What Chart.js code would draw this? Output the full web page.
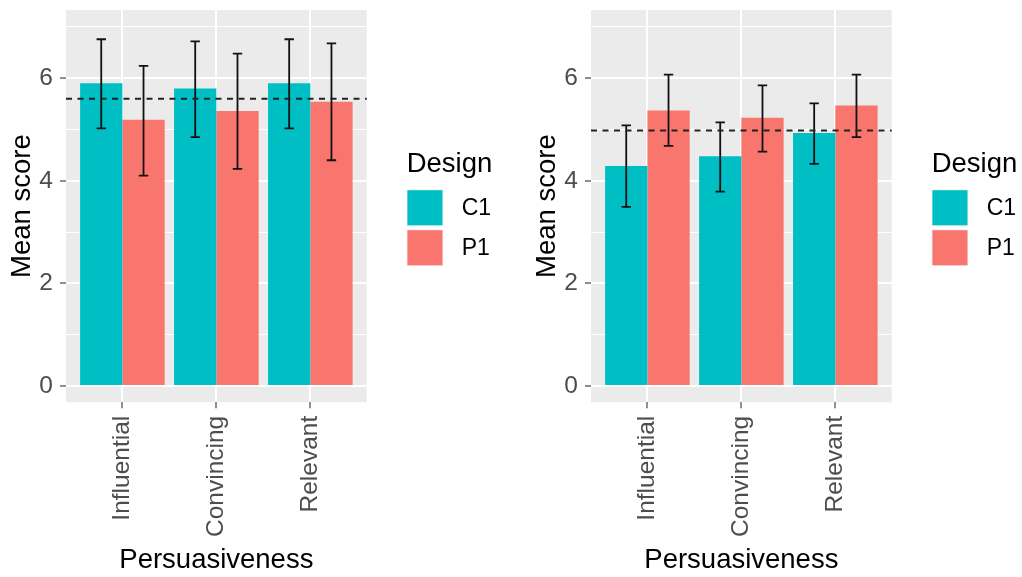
<!DOCTYPE html>
<html>
<head>
<meta charset="utf-8">
<script src="https://cdn.jsdelivr.net/npm/chart.js@4/dist/chart.umd.min.js"></script>
<style>
  html, body { margin: 0; padding: 0; background: #ffffff; width: 1022px; height: 577px; overflow: hidden; }
  .panel { position: absolute; top: 0; height: 577px; }
  #panelLeft { left: 0; width: 525px; }
  #panelRight { left: 525px; width: 497px; }
</style>
</head>
<body>
<div class="panel" id="panelLeft"><canvas id="chartLeft"></canvas></div>
<div class="panel" id="panelRight"><canvas id="chartRight"></canvas></div>
<script>
// Categories, groups and axis labels
const categories = ['Influential', 'Convincing', 'Relevant'];
const designs = ['C1', 'P1'];
const designColors = ['#00BFC4', '#F8766D'];
const yTickLabels = [0, 2, 4, 6];

// Left panel: mean scores with error-bar limits
const leftMeanC1 = [5.90, 5.80, 5.90];
const leftMeanP1 = [5.19, 5.36, 5.54];
const leftLowC1 = [5.02, 4.85, 5.02];
const leftHighC1 = [6.76, 6.72, 6.76];
const leftLowP1 = [4.10, 4.23, 4.40];
const leftHighP1 = [6.24, 6.48, 6.68];
const leftReference = 5.60;

// Right panel: mean scores with error-bar limits
const rightMeanC1 = [4.29, 4.48, 4.93];
const rightMeanP1 = [5.37, 5.23, 5.47];
const rightLowC1 = [3.49, 3.79, 4.33];
const rightHighC1 = [5.08, 5.14, 5.51];
const rightLowP1 = [4.68, 4.57, 4.85];
const rightHighP1 = [6.07, 5.86, 6.07];
const rightReference = 4.98;

const FONT = "'Liberation Sans', Arial, sans-serif";

// Grey panel behind the plotting area
const panelBackground = {
  id: 'panelBackground',
  beforeDraw(chart) {
    const { ctx, chartArea: a } = chart;
    ctx.save();
    ctx.fillStyle = '#EBEBEB';
    ctx.fillRect(a.left, a.top, a.right - a.left, a.bottom - a.top);
    ctx.restore();
  }
};

// Error bars on each bar plus the dashed reference line
const errorBarsAndReference = {
  id: 'errorBarsAndReference',
  afterDatasetsDraw(chart, args, opts) {
    const { ctx, chartArea: a } = chart;
    const xs = chart.scales.x, ys = chart.scales.y;
    const capHalf = (xs.getPixelForValue(1.1) - xs.getPixelForValue(1)) / 2;
    ctx.save();
    ctx.strokeStyle = '#111111';
    ctx.lineWidth = 1.8;
    chart.data.datasets.forEach((ds, di) => {
      const meta = chart.getDatasetMeta(di);
      meta.data.forEach((bar, i) => {
        const yl = ys.getPixelForValue(ds.errLow[i]);
        const yh = ys.getPixelForValue(ds.errHigh[i]);
        const x = bar.x;
        ctx.beginPath();
        ctx.moveTo(x, yl); ctx.lineTo(x, yh);
        ctx.moveTo(x - capHalf, yl); ctx.lineTo(x + capHalf, yl);
        ctx.moveTo(x - capHalf, yh); ctx.lineTo(x + capHalf, yh);
        ctx.stroke();
      });
    });
    const yr = ys.getPixelForValue(opts.reference);
    ctx.setLineDash([6, 5.5]);
    ctx.lineWidth = 1.9;
    ctx.strokeStyle = '#222222';
    ctx.beginPath();
    ctx.moveTo(a.left, yr);
    ctx.lineTo(a.right, yr);
    ctx.stroke();
    ctx.restore();
  }
};

// "Design" key to the right of the panel
const designKey = {
  id: 'designKey',
  afterDraw(chart) {
    const { ctx, chartArea: a } = chart;
    const x0 = a.right + 40;
    ctx.save();
    ctx.fillStyle = '#000000';
    ctx.font = '27.5px ' + FONT;
    ctx.textAlign = 'left';
    ctx.textBaseline = 'alphabetic';
    ctx.fillText('Design', x0, 171.5);
    const size = 36.5;
    designs.forEach((d, i) => {
      const top = 189.5 + i * 40;
      ctx.fillStyle = '#F2F2F2';
      ctx.fillRect(x0, top, size, size);
      ctx.fillStyle = designColors[i];
      ctx.fillRect(x0 + 0.7, top + 0.7, size - 1.4, size - 1.4);
      ctx.fillStyle = '#000000';
      ctx.font = '23px ' + FONT;
      ctx.textBaseline = 'middle';
      ctx.fillText(d, x0 + 55, top + size / 2 + 1);
    });
    ctx.restore();
  }
};

function makeDataset(i, means, lows, highs) {
  return {
    label: designs[i],
    data: means.map((v, k) => ({ x: k + 1, y: v })),
    errLow: lows,
    errHigh: highs,
    backgroundColor: designColors[i],
    borderWidth: 0,
    categoryPercentage: 0.9,
    barPercentage: 1.0
  };
}

function buildChart(canvasId, rightPad, datasets, reference) {
  return new Chart(document.getElementById(canvasId), {
    type: 'bar',
    data: { datasets },
    plugins: [panelBackground, errorBarsAndReference, designKey],
    options: {
      responsive: true,
      maintainAspectRatio: false,
      animation: false,
      devicePixelRatio: 1,
      layout: { padding: { top: 10, left: 0, right: rightPad, bottom: 0 } },
      plugins: {
        legend: { display: false },
        tooltip: { enabled: false },
        errorBarsAndReference: { reference }
      },
      scales: {
        x: {
          type: 'linear',
          offset: false,
          min: 0.4,
          max: 3.6,
          afterBuildTicks(scale) {
            scale.ticks = categories.map((c, k) => ({ value: k + 1 }));
          },
          afterFit(scale) {
            scale.height = 174.7;
            scale.paddingLeft = 0; scale.paddingRight = 0;
          },
          border: { display: false },
          grid: {
            color: '#FFFFFF',
            lineWidth: 2,
            tickColor: '#333333',
            tickWidth: 1.1,
            tickLength: 6,
            offset: false
          },
          ticks: {
            autoSkip: false,
            maxRotation: 90,
            minRotation: 90,
            padding: 7.5,
            color: '#4D4D4D',
            font: { family: FONT, size: 24.5 },
            callback: (v) => categories[Math.round(v) - 1] || ''
          },
          title: {
            display: true,
            text: 'Persuasiveness',
            color: '#000000',
            font: { family: FONT, size: 27.5, lineHeight: 1.2 },
            padding: { top: 0, bottom: 0.5 }
          }
        },
        y: {
          type: 'linear',
          min: -0.32,
          max: 7.33,
          afterBuildTicks(scale) {
            scale.ticks = [0, 1, 2, 3, 4, 5, 6, 7].map(v => ({ value: v }));
          },
          afterFit(scale) {
            scale.width = 66;
            scale.paddingTop = 0; scale.paddingBottom = 0;
          },
          border: { display: false },
          grid: {
            color: '#FFFFFF',
            lineWidth: (c) => (c.tick && yTickLabels.includes(c.tick.value)) ? 2 : 1,
            tickColor: (c) => (c.tick && yTickLabels.includes(c.tick.value)) ? '#333333' : 'rgba(0,0,0,0)',
            tickWidth: 1.1,
            tickLength: 6
          },
          ticks: {
            padding: 7,
            color: '#4D4D4D',
            font: { family: FONT, size: 24.5 },
            callback: (v) => yTickLabels.includes(v) ? String(v) : ''
          },
          title: {
            display: true,
            text: 'Mean score',
            color: '#000000',
            font: { family: FONT, size: 27.5, lineHeight: 1.2 },
            padding: { top: 5.5, bottom: 0 }
          }
        }
      }
    }
  });
}

buildChart('chartLeft', 525 - 366.7, [
  makeDataset(0, leftMeanC1, leftLowC1, leftHighC1),
  makeDataset(1, leftMeanP1, leftLowP1, leftHighP1)
], leftReference);

buildChart('chartRight', 497 - 366.7, [
  makeDataset(0, rightMeanC1, rightLowC1, rightHighC1),
  makeDataset(1, rightMeanP1, rightLowP1, rightHighP1)
], rightReference);
</script>
</body>
</html>
